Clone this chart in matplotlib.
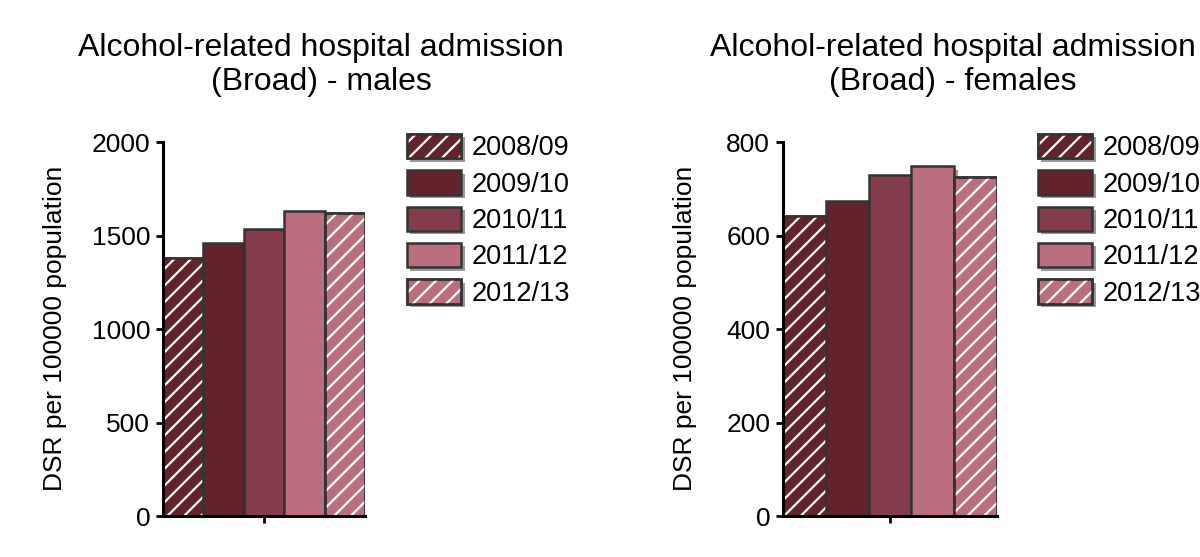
import matplotlib
matplotlib.use("Agg")
import matplotlib.pyplot as plt
import matplotlib.patheffects as pe
from matplotlib.legend_handler import HandlerTuple

plt.rcParams['font.family'] = ['Liberation Sans', 'DejaVu Sans']
plt.rcParams['hatch.linewidth'] = 1.6

years = ["2008/09", "2009/10", "2010/11", "2011/12", "2012/13"]
males = [1379, 1459, 1537, 1635, 1619]
females = [642, 674, 731, 749, 726]

colors = ["#62232B", "#62232B", "#843B4B", "#BB6F7E", "#BB6F7E"]
hatches = ["//", "", "", "", "//"]
edge = "#333333"

fig = plt.figure(figsize=(12, 5.57), dpi=100)
shadow = [pe.SimplePatchShadow(offset=(2.5, -2.5), shadow_rgbFace="#808080", alpha=0.8), pe.Normal()]


def draw_panel(rect, values, ymax, title, title_x, ylabel_x, legend_x):
    ax = fig.add_axes(rect)
    xs = range(len(values))
    bars = ax.bar(xs, values, width=1.0, color=colors, edgecolor=edge,
                  linewidth=1.8, zorder=2)
    for b in bars:
        b.set_path_effects(shadow)
    # white hatch overlay
    for x, v, h in zip(xs, values, hatches):
        if h:
            ax.bar(x, v, width=1.0, facecolor="none", edgecolor="white",
                   linewidth=0, hatch=h, zorder=3)
            ax.bar(x, v, width=1.0, facecolor="none", edgecolor=edge,
                   linewidth=1.8, zorder=4)
    ax.set_xlim(-0.5, len(values) - 0.5)
    ax.set_ylim(0, ymax)
    ax.set_yticks([ymax * i / 4 for i in range(5)])
    ax.set_yticklabels([f"{int(ymax * i / 4)}" for i in range(5)])
    ax.set_xticks([2])
    ax.set_xticklabels([""])
    for s in ["top", "right"]:
        ax.spines[s].set_visible(False)
    for s in ["left", "bottom"]:
        ax.spines[s].set_linewidth(2.2)
        ax.spines[s].set_zorder(5)
    ax.tick_params(axis="both", length=5, width=2, labelsize=19, pad=4)
    ax.set_facecolor("none")
    fig.text(title_x, 0.883, title, ha="center", va="center", fontsize=23,
             linespacing=1.2)
    fig.text(ylabel_x, 0.41, "DSR per 100000 population", rotation=90,
             ha="center", va="center", fontsize=19)

    handles = []
    for c, h in zip(colors, hatches):
        base = plt.Rectangle((0, 0), 1, 1, facecolor=c, edgecolor=edge,
                             linewidth=1.8)
        base.set_path_effects(shadow)
        if h:
            hatch = plt.Rectangle((0, 0), 1, 1, facecolor="none",
                                  edgecolor="white", linewidth=0, hatch=h)
            outline = plt.Rectangle((0, 0), 1, 1, facecolor="none",
                                    edgecolor=edge, linewidth=1.8)
            handles.append((base, hatch, outline))
        else:
            handles.append((base,))
    fig.legend(handles, years, loc="upper left",
               bbox_to_anchor=(legend_x, 1 - 134 / 557),
               handler_map={tuple: HandlerTuple(ndivide=1, pad=0)},
               frameon=False, fontsize=19.5, handlelength=2.0,
               handleheight=1.0, labelspacing=0.33, handletextpad=0.4,
               borderpad=0, borderaxespad=0)
    return ax


draw_panel([162.7 / 1200, 1 - 516 / 557, (365 - 162.7) / 1200, (516 - 142.3) / 557],
           males, 2000, "Alcohol-related hospital admission\n(Broad) - males",
           321 / 1200, 55 / 1200, 407 / 1200)
draw_panel([782.7 / 1200, 1 - 516 / 557, (997.3 - 782.7) / 1200, (516 - 142.3) / 557],
           females, 800, "Alcohol-related hospital admission\n(Broad) - females",
           953 / 1200, 685 / 1200, 1038 / 1200)

fig.savefig("out.png", dpi=100)
